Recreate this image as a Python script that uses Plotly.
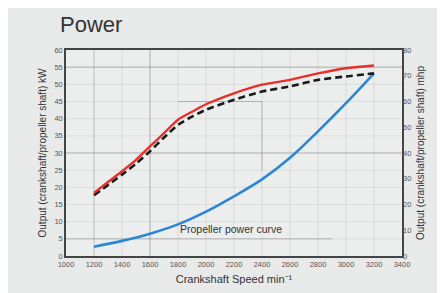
import plotly.graph_objects as go

rpm = [1200, 1400, 1500, 1600, 1700, 1800, 1900, 2000, 2200, 2400, 2600, 2800, 3000, 3200]
crank_kw = [18.4, 24.7, 28.0, 31.9, 35.8, 39.7, 42.0, 44.2, 47.4, 49.9, 51.3, 53.2, 54.7, 55.5]
prop_shaft_kw = [17.7, 23.7, 26.9, 30.5, 34.5, 38.2, 40.6, 42.6, 45.5, 47.9, 49.4, 51.3, 52.3, 53.2]
prop_curve_rpm = [1200, 1400, 1600, 1800, 2000, 2200, 2400, 2600, 2800, 3000, 3200]
prop_curve_kw = [2.7, 4.4, 6.5, 9.2, 12.9, 17.4, 22.3, 28.6, 36.3, 44.5, 53.2]

x_ticks = [1000, 1200, 1400, 1600, 1800, 2000, 2200, 2400, 2600, 2800, 3000, 3200, 3400]
kw_ticks = [0, 5, 10, 15, 20, 25, 30, 35, 40, 45, 50, 55, 60]
hp_ticks = [0, 10, 20, 30, 40, 50, 60, 70, 80]

FONT = "Liberation Sans Narrow, Liberation Sans, Arial"
TXT = "#444444"

fig = go.Figure()
fig.add_trace(go.Scatter(x=prop_curve_rpm, y=prop_curve_kw, mode="lines", line=dict(color="#2b86d6", width=2.6, shape="spline"), showlegend=False))
fig.add_trace(go.Scatter(x=rpm, y=prop_shaft_kw, mode="lines", line=dict(color="#1a1a1a", width=2.6, dash="7px,4px", shape="spline", smoothing=0.6), showlegend=False))
fig.add_trace(go.Scatter(x=rpm, y=crank_kw, mode="lines", line=dict(color="#e8302a", width=2.4, shape="spline", smoothing=0.6), showlegend=False))
fig.add_trace(go.Scatter(x=[1000, 3400], y=[0, 80], yaxis="y2", mode="lines", line=dict(width=0, color="rgba(0,0,0,0)"), showlegend=False, hoverinfo="skip"))

grid = "rgba(120,120,120,0.45)"
faint = "rgba(150,150,150,0.18)"
shapes = []
for v in kw_ticks[1:-1]:
    shapes.append(dict(type="line", xref="x", yref="y", x0=1000, x1=3400, y0=v, y1=v, line=dict(color=faint, width=1), layer="below"))
for v in x_ticks[1:-1]:
    shapes.append(dict(type="line", xref="x", yref="y", x0=v, x1=v, y0=0, y1=60, line=dict(color=faint, width=1), layer="below"))
shapes += [
    dict(type="line", xref="x", yref="y", x0=1000, x1=2900, y0=5, y1=5, line=dict(color=grid, width=1), layer="below"),
    dict(type="line", xref="x", yref="y", x0=1000, x1=3400, y0=30, y1=30, line=dict(color=grid, width=1), layer="below"),
    dict(type="line", xref="x", yref="y", x0=1000, x1=3400, y0=55, y1=55, line=dict(color=grid, width=1), layer="below"),
    dict(type="line", xref="x", yref="y", x0=1600, x1=1600, y0=0, y1=60, line=dict(color=grid, width=1), layer="below"),
    dict(type="line", xref="x", yref="y", x0=1200, x1=1200, y0=0, y1=60, line=dict(color="rgba(120,120,120,0.3)", width=1), layer="below"),
    dict(type="line", xref="x", yref="y", x0=2400, x1=2400, y0=25, y1=45, line=dict(color=grid, width=1), layer="below"),
    dict(type="line", xref="x", yref="y", x0=1800, x1=2400, y0=45, y1=45, line=dict(color=grid, width=1), layer="below"),
]

fig.update_layout(
    width=445, height=293,
    margin=dict(l=58, r=51, t=42, b=45),
    paper_bgcolor="#e8e9e9", plot_bgcolor="#eceded",
    font=dict(family=FONT, color=TXT, size=8),
    shapes=shapes,
    title=dict(text="Power", x=52/445, xanchor="left", y=1-16/293, yanchor="middle",
               font=dict(family="Liberation Sans, Arial", size=22, color="#333333")),
    xaxis=dict(range=[1000, 3400], tickvals=x_ticks, ticktext=[str(v) for v in x_ticks],
               showgrid=False, zeroline=False, showline=True, linecolor="#444444", linewidth=1.5,
               mirror=True, ticks="", tickfont=dict(size=7.5, color="#555555"),
               title=dict(text="Crankshaft Speed min\u207b\u00b9", font=dict(size=11, color="#333333"), standoff=8)),
    yaxis=dict(range=[0, 60], tickvals=kw_ticks, showgrid=False, zeroline=False, showline=True,
               linecolor="#444444", linewidth=1.5, mirror=True, ticks="",
               tickfont=dict(size=7.5, color="#555555"),
               title=dict(text="Output (crankshaft/propeller shaft) kW", font=dict(size=10, color="#333333"), standoff=6)),
    yaxis2=dict(range=[0, 80], tickvals=hp_ticks, overlaying="y", side="right", showgrid=False,
                zeroline=False, ticks="", tickfont=dict(size=7.5, color="#555555"),
                title=dict(text="Output (crankshaft/propeller shaft) mhp", font=dict(size=10, color="#333333"), standoff=6)),
    annotations=[dict(text="Propeller power curve", x=2180, y=5.6, xref="x", yref="y", showarrow=False,
                      yanchor="bottom", font=dict(size=10.5, color="#333333"))],
)

fig.write_html("out.html")
